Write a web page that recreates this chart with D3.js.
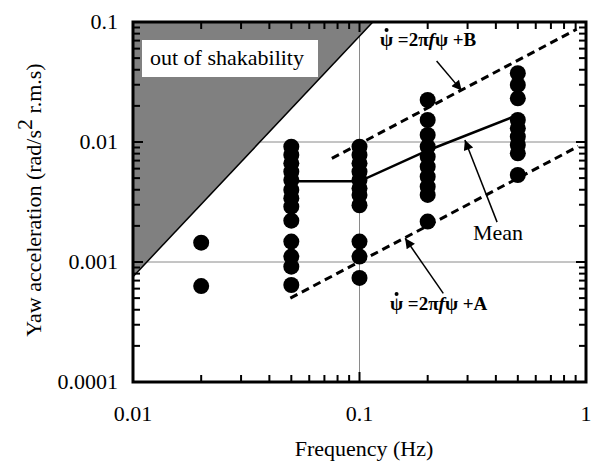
<!DOCTYPE html>
<html><head><meta charset="utf-8">
<script src="https://cdn.jsdelivr.net/npm/d3@7"></script>
<style>body{margin:0;background:#fff}svg{display:block}text{font-family:"Liberation Serif","Times New Roman",serif}</style>
</head><body>
<svg id="c" width="594" height="462"></svg>
<script>
// ---- data ----
const freqs = [0.02, 0.05, 0.1, 0.2, 0.5];
const yaw002 = [0.00145, 0.00063];
const yaw005 = [0.00914, 0.0078, 0.00664, 0.00565, 0.00482, 0.00398, 0.0034, 0.00289, 0.00221, 0.00148, 0.00111, 0.000914, 0.000643];
const yaw01 = [0.00914, 0.0078, 0.00664, 0.00565, 0.00482, 0.00411, 0.00361, 0.00297, 0.00148, 0.00111, 0.000737];
const yaw02 = [0.0224, 0.01525, 0.01144, 0.00914, 0.00754, 0.00623, 0.00514, 0.00424, 0.00362, 0.00217];
const yaw05 = [0.0374, 0.0299, 0.0231, 0.01525, 0.013, 0.01107, 0.00944, 0.00805, 0.00531];
const yawSeries = [yaw002, yaw005, yaw01, yaw02, yaw05];
const meanFreq = [0.05, 0.1, 0.2, 0.5];
const meanVal = [0.0047, 0.0047, 0.0085, 0.0168];
const lineAFreq = [0.0495, 0.925];
const lineAVal = [0.0005, 0.0092];
const lineBFreq = [0.0755, 0.91];
const lineBVal = [0.0073, 0.087];
const shakeFreq = [0.01, 0.1145];
const shakeVal = [0.000755, 0.1];
const xTickVals = [0.01, 0.1, 1];
const xTickLabels = ["0.01", "0.1", "1"];
const yTickVals = [0.0001, 0.001, 0.01, 0.1];
const yTickLabels = ["0.0001", "0.001", "0.01", "0.1"];
// annotations: [tailF, tailV, tipF, tipV]
const arrowB = [0.219, 0.0473, 0.2825, 0.0268];
const arrowMean = [0.405, 0.00215, 0.292, 0.0104];
const arrowA = [0.2344, 0.000548, 0.159, 0.001576];
const labelB = [0.1232, 0.063];
const labelMean = [0.317, 0.00153];
const labelA = [0.1364, 0.000398];

// ---- layout ----
const L = 133, R = 586, T = 22, B = 382;
const FS = 22;
const svg = d3.select("#c");
const x = d3.scaleLog().domain([0.01, 1]).range([L, R]);
const y = d3.scaleLog().domain([0.0001, 0.1]).range([B, T]);

// grid
const g = svg.append("g");
g.selectAll(".gx").data([0.1]).enter().append("line")
  .attr("x1", d => x(d)).attr("x2", d => x(d)).attr("y1", T).attr("y2", B)
  .attr("stroke", "#8a8a8a").attr("stroke-width", 1);
g.selectAll(".gy").data([0.01, 0.001]).enter().append("line")
  .attr("y1", d => y(d)).attr("y2", d => y(d)).attr("x1", L).attr("x2", R)
  .attr("stroke", "#8a8a8a").attr("stroke-width", 1);

// shaded region
svg.append("path")
  .attr("d", d3.line()([[x(shakeFreq[0]), y(0.1)], [x(shakeFreq[0]), y(shakeVal[0])], [x(shakeFreq[1]), y(shakeVal[1])]]) + "Z")
  .attr("fill", "#808080");
svg.append("line")
  .attr("x1", x(shakeFreq[0])).attr("y1", y(shakeVal[0]))
  .attr("x2", x(shakeFreq[1])).attr("y2", y(shakeVal[1]))
  .attr("stroke", "#000").attr("stroke-width", 1.5);

// label box
svg.append("rect").attr("x", 142).attr("y", 40).attr("width", 176).attr("height", 37).attr("fill", "#fff");
svg.append("text").attr("x", 150).attr("y", 65).attr("font-size", FS).text("out of shakability");

// dashed lines
const lg = d3.line().x(d => x(d[0])).y(d => y(d[1]));
svg.append("path").attr("d", lg(d3.zip(lineAFreq, lineAVal)))
  .attr("fill", "none").attr("stroke", "#000").attr("stroke-width", 3).attr("stroke-dasharray", "8,5");
svg.append("path").attr("d", lg(d3.zip(lineBFreq, lineBVal)))
  .attr("fill", "none").attr("stroke", "#000").attr("stroke-width", 3).attr("stroke-dasharray", "8,5");

// dots
const pts = [];
freqs.forEach((f, i) => yawSeries[i].forEach(v => pts.push([f, v])));
svg.selectAll(".dot").data(pts).enter().append("circle")
  .attr("cx", d => x(d[0])).attr("cy", d => y(d[1])).attr("r", 8).attr("fill", "#000");

// mean line
svg.append("path").attr("d", lg(d3.zip(meanFreq, meanVal)))
  .attr("fill", "none").attr("stroke", "#000").attr("stroke-width", 2.5);

// arrows
svg.append("defs").append("marker").attr("id", "ah")
  .attr("viewBox", "0 0 10 10").attr("refX", 10).attr("refY", 5)
  .attr("markerWidth", 13).attr("markerHeight", 10).attr("markerUnits", "userSpaceOnUse")
  .attr("orient", "auto")
  .append("path").attr("d", "M0,0L10,5L0,10Z").attr("fill", "#000");
[arrowB, arrowMean, arrowA].forEach(a => {
  svg.append("line").attr("x1", x(a[0])).attr("y1", y(a[1])).attr("x2", x(a[2])).attr("y2", y(a[3]))
    .attr("stroke", "#000").attr("stroke-width", 1.5).attr("marker-end", "url(#ah)");
});

// formula labels
function formula(pos, letter) {
  const x0 = x(pos[0]), y0 = y(pos[1]);
  const t = svg.append("text").attr("x", x0).attr("y", y0)
    .attr("font-size", 19).attr("font-weight", "bold");
  const psi = t.append("tspan").text("\u03C8");
  t.append("tspan").text(" =2\u03C0");
  t.append("tspan").attr("font-style", "italic").text("f");
  t.append("tspan").text("\u03C8 +" + letter);
  const w = t.node().getSubStringLength(0, 1);
  svg.append("circle").attr("cx", x0 + w / 2).attr("cy", y0 - 16).attr("r", 2).attr("fill", "#000");
}
formula(labelB, "B");
formula(labelA, "A");
svg.append("text").attr("x", x(labelMean[0])).attr("y", y(labelMean[1])).attr("font-size", FS).text("Mean");

// axes frame + ticks
const frame = svg.append("g");
function minorTicks(lo, hi) {
  const out = [];
  for (let p = Math.log10(lo); p < Math.log10(hi) - 1e-9; p++)
    for (let k = 2; k <= 9; k++) out.push(k * Math.pow(10, Math.round(p)));
  return out;
}
const xMin = minorTicks(0.01, 1), yMin = minorTicks(0.0001, 0.1);
const tk = (arr, cls, f) => frame.selectAll("." + cls).data(arr).enter().append("line").each(f)
  .attr("stroke", "#000").attr("stroke-width", 2);
const ML = 7, MJ = 10;
tk(xMin, "xb", function (d) { d3.select(this).attr("x1", x(d)).attr("x2", x(d)).attr("y1", B).attr("y2", B - ML); });
tk(xMin, "xt", function (d) { d3.select(this).attr("x1", x(d)).attr("x2", x(d)).attr("y1", T).attr("y2", T + ML); });
tk(xTickVals, "xbm", function (d) { d3.select(this).attr("x1", x(d)).attr("x2", x(d)).attr("y1", B).attr("y2", B - MJ); });
tk(xTickVals, "xtm", function (d) { d3.select(this).attr("x1", x(d)).attr("x2", x(d)).attr("y1", T).attr("y2", T + MJ); });
tk(yMin, "yl", function (d) { d3.select(this).attr("y1", y(d)).attr("y2", y(d)).attr("x1", L).attr("x2", L + ML); });
tk(yMin, "yr", function (d) { d3.select(this).attr("y1", y(d)).attr("y2", y(d)).attr("x1", R).attr("x2", R - ML); });
tk(yTickVals, "ylm", function (d) { d3.select(this).attr("y1", y(d)).attr("y2", y(d)).attr("x1", L).attr("x2", L + MJ); });
tk(yTickVals, "yrm", function (d) { d3.select(this).attr("y1", y(d)).attr("y2", y(d)).attr("x1", R).attr("x2", R - MJ); });
frame.append("rect").attr("x", L).attr("y", T).attr("width", R - L).attr("height", B - T)
  .attr("fill", "none").attr("stroke", "#000").attr("stroke-width", 3);

// tick labels
svg.selectAll(".xl").data(xTickVals).enter().append("text")
  .attr("x", d => x(d)).attr("y", 421).attr("text-anchor", "middle").attr("font-size", FS)
  .text((d, i) => xTickLabels[i]);
svg.selectAll(".yl").data(yTickVals).enter().append("text")
  .attr("x", 118).attr("y", d => y(d) + 7).attr("text-anchor", "end").attr("font-size", FS)
  .text((d, i) => yTickLabels[i]);

// axis titles
svg.append("text").attr("x", 364).attr("y", 456).attr("text-anchor", "middle")
  .attr("font-size", FS).text("Frequency (Hz)");
const yt = svg.append("text").attr("transform", "translate(41,200) rotate(-90)")
  .attr("text-anchor", "middle").attr("font-size", FS);
yt.append("tspan").text("Yaw acceleration (rad/s");
yt.append("tspan").attr("dy", -9).text("2");
yt.append("tspan").attr("dy", 9).text(" r.m.s)");
</script>
</body></html>
